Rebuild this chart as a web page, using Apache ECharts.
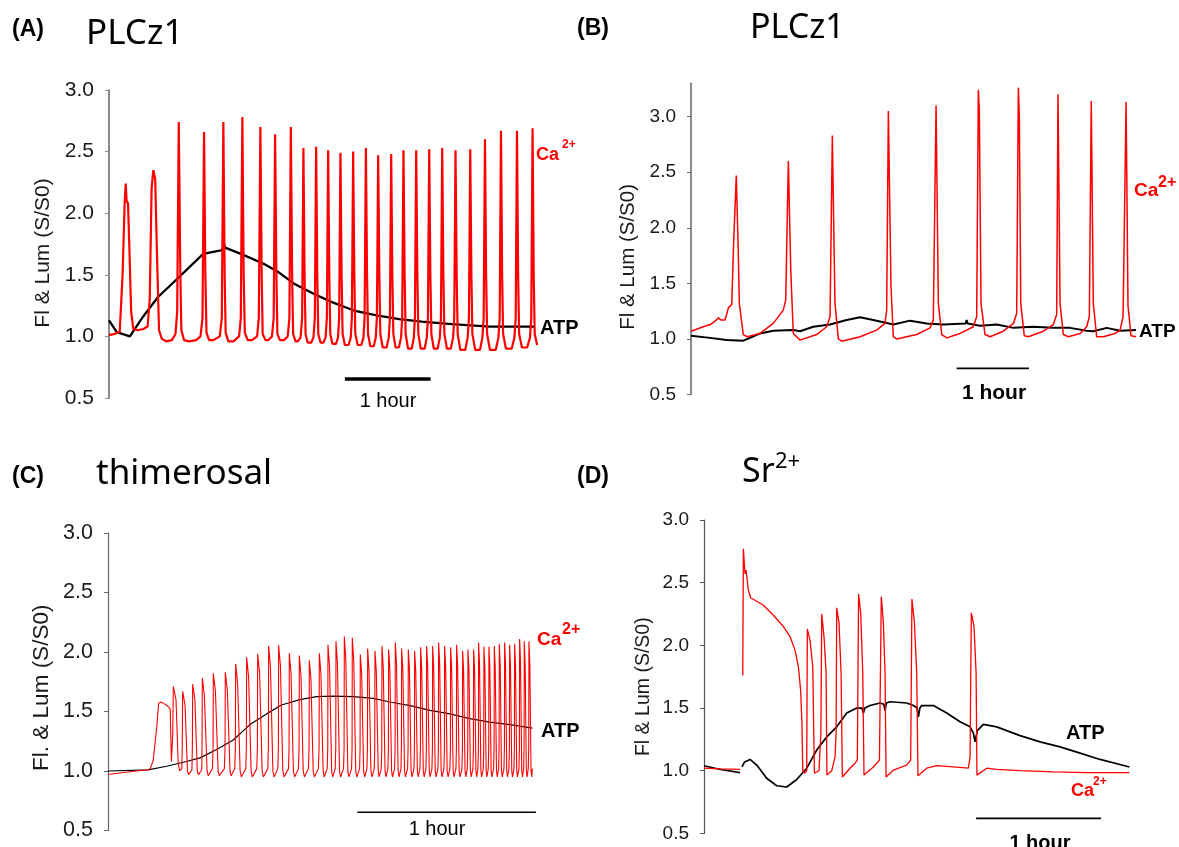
<!DOCTYPE html>
<html><head><meta charset="utf-8">
<script src="https://cdn.jsdelivr.net/npm/echarts@6/dist/echarts.min.js"></script>
<style>html,body{margin:0;padding:0;background:#fff}#c{width:1179px;height:847px}</style>
</head><body><div id="c"></div>
<script>
// y tick values shared by all panels
const yTicks = [0.5, 1.0, 1.5, 2.0, 2.5, 3.0];

// ---------- Panel A : PLCz1 (time in minutes) ----------
const aAtp = [[0,1.13],[5.4,1.035],[14.6,1.0],[23.8,1.16],[34.3,1.32],[48.9,1.48],[65.9,1.67],[79.1,1.70],[80.5,1.75],[81.2,1.72],[92.3,1.67],[108.2,1.59],[118.7,1.52],[129.2,1.43],[142.4,1.35],[155.5,1.28],[171.4,1.21],[187.2,1.17],[203,1.14],[218.8,1.12],[239.8,1.10],[266.2,1.08],[297.8,1.08]];
const aCa = [[0,1.01],[4,1.02],[7.5,1.04],[9.5,1.5],[11.0,2.1],[11.7,2.24],[12.3,2.10],[13.3,2.08],[14.3,1.7],[15.5,1.2],[17,1.06],[20,1.05],[24,1.06],[27,1.08],[28.5,1.3],[29.8,2.2],[31.0,2.35],[32.3,2.28],[33.5,1.7],[35,1.05],[37,0.98],[40,0.96],[44,0.97],[46.5,1.02],[47.7,1.2],
[48.8,2.74],[49.8,1.6],[50.6,1.05],[52.5,0.97],[56,0.96],[61,0.97],[64,1.0],[65.4,1.15],
[66.5,2.66],[67.4,1.5],[68.2,1.03],[70,0.97],[73,0.97],[77.5,1.0],[78.9,1.15],
[80.0,2.74],[80.9,1.5],[81.6,1.03],[83.5,0.96],[87,0.96],[91,1.0],[92.2,1.15],
[93.3,2.78],[94.2,1.5],[95,1.03],[97,0.97],[100,0.97],[103.6,1.0],[104.8,1.15],
[105.9,2.70],[106.8,1.5],[107.5,1.02],[109.5,0.97],[111.5,0.97],[114,1.0],[115.2,1.15],
[116.2,2.64],[117.1,1.5],[117.8,1.02],[119.5,0.97],[122.5,0.97],[125,1.0],[126.2,1.15],
[127.2,2.70],[128.1,1.5],[128.8,1.02],[130.5,0.96],[132,0.96],[134,0.99],[135.1,1.15],
[136.0,2.53],[136.8,1.5],[137.5,1.02],[139,0.95],[141.5,0.95],[143,0.99],[144.0,1.15],
[144.9,2.54],[145.7,1.5],[146.4,1.02],[148,0.95],[150,0.95],[151.5,0.99],[152.4,1.15],
[153.3,2.51],[154.1,1.5],[154.8,1.02],[156.3,0.94],[158.8,0.94],[160.2,0.99],[161.0,1.15],
[161.9,2.49],[162.7,1.5],[163.4,1.02],[165,0.93],[167.6,0.93],[169.1,0.99],[169.9,1.15],
[170.8,2.50],[171.6,1.5],[172.3,1.02],[174,0.93],[176.5,0.93],[178,0.99],[178.8,1.15],
[179.7,2.53],[180.5,1.5],[181.2,1.02],[182.8,0.92],[185.2,0.92],[186.6,0.99],[187.4,1.15],
[188.3,2.47],[189.1,1.5],[189.8,1.02],[191.5,0.91],[194.2,0.91],[195.7,0.99],[196.5,1.15],
[197.4,2.48],[198.2,1.5],[198.9,1.02],[200.5,0.91],[202.8,0.91],[204.3,0.99],[205.1,1.15],
[206.0,2.51],[206.8,1.5],[207.5,1.02],[209.2,0.90],[211.8,0.90],[213.2,0.99],[214.0,1.15],
[214.9,2.51],[215.7,1.5],[216.4,1.02],[218.1,0.90],[220.8,0.90],[222.3,0.99],[223.1,1.15],
[224.0,2.52],[224.8,1.5],[225.5,1.02],[227.2,0.90],[229.9,0.90],[231.4,0.99],[232.2,1.15],
[233.1,2.53],[233.9,1.5],[234.6,1.02],[236.4,0.90],[239.1,0.90],[240.7,0.99],[241.5,1.15],
[242.4,2.51],[243.2,1.5],[243.9,1.02],[245.8,0.89],[249.2,0.89],[250.9,0.99],[251.8,1.15],
[252.7,2.52],[253.5,1.5],[254.2,1.02],[256.2,0.89],[259.5,0.89],[261.2,0.99],[262.1,1.15],
[263.0,2.60],[263.8,1.5],[264.5,1.02],[266.5,0.89],[270.5,0.89],[272.4,0.99],[273.3,1.15],
[274.2,2.67],[275,1.5],[275.7,1.02],[277.7,0.90],[281.7,0.90],[283.6,0.99],[284.5,1.15],
[285.4,2.67],[286.2,1.5],[286.9,1.02],[288.9,0.91],[292.5,0.91],[294.5,0.99],[295.4,1.15],
[296.3,2.69],[297.1,1.5],[297.8,1.02],[299.5,0.93]];
const aBar = [[165,0.654],[225,0.654]];

// ---------- Panel B : PLCz1 ----------
const bAtp = [[0,1.03],[15.8,1.01],[29.6,0.99],[43.4,0.985],[49.0,1.01],[57.3,1.05],[68.3,1.075],[84.9,1.08],[90.5,1.07],[101.5,1.11],[115.4,1.13],[129.2,1.17],[140.3,1.195],[151.3,1.17],[167.9,1.13],[181.8,1.165],[195.6,1.14],[209.4,1.13],[228.0,1.14],[228.8,1.17],[229.6,1.14],[239.9,1.12],[253.7,1.13],[267.6,1.10],[284.1,1.11],[300.7,1.10],[314.6,1.10],[328.4,1.075],[333.9,1.07],[345.0,1.10],[356.1,1.075],[369.4,1.08]];
const bCa = [[0,1.07],[10.2,1.11],[16,1.13],[20,1.16],[22.7,1.19],[25,1.17],[28.2,1.17],[29.6,1.22],[31.0,1.28],[33.8,1.31],[35.5,1.9],[37.6,2.47],[39.2,1.8],[40.1,1.32],[43.4,1.04],[46.7,1.02],[57.3,1.05],[68.3,1.14],[76.6,1.26],[78.6,1.35],[80.8,2.60],[82.8,1.62],[84.9,1.05],[90.5,0.99],[104.3,1.04],[112.6,1.11],[115.4,1.20],[117.3,2.83],[119.5,1.32],[122.3,1.0],[125.1,0.98],[140.3,1.02],[154.1,1.08],[161.0,1.14],[162.4,1.26],[163.8,3.05],[166.0,1.47],[167.9,1.02],[170.7,1.0],[187.3,1.04],[198.4,1.10],[201.1,1.17],[203.4,3.10],[205.3,1.32],[208.1,1.04],[212.2,1.01],[223.3,1.05],[234.3,1.11],[237.1,1.20],[238.5,3.24],[239.3,3.05],[240.7,1.32],[244.0,1.04],[248.2,1.02],[259.2,1.07],[267.6,1.14],[270.3,1.23],[271.7,3.26],[272.5,3.0],[273.7,1.32],[276.6,1.03],[280.0,1.02],[292.4,1.07],[300.7,1.13],[303.5,1.22],[304.6,3.20],[306.3,1.32],[309.0,1.04],[313.2,1.02],[322.9,1.05],[328.4,1.11],[330.6,1.20],[332.2,3.14],[333.9,1.32],[336.7,1.02],[342.2,1.02],[352.0,1.05],[356.1,1.08],[358.6,1.2],[361.1,3.13],[362.7,1.3],[365.2,1.03],[369.4,1.02]];
const bBar = [[220.5,0.736],[280.5,0.736]];

// ---------- Panel C : thimerosal ----------
const cAtp = [[0,1.0],[13.5,1.01],[19.7,1.04],[26.4,1.08],[30.9,1.11],[36.5,1.18],[42.1,1.26],[47.7,1.39],[53.3,1.48],[58.3,1.555],[64.5,1.60],[70.1,1.625],[75.7,1.63],[82.4,1.625],[89.2,1.61],[94.7,1.58],[101.5,1.55],[108.2,1.51],[114.9,1.48],[121.6,1.44],[128.3,1.41],[135.1,1.39],[142.6,1.36]];
const cCa = [[0,0.97],[6,0.99],[13.4,1.01],[14.2,1.02],[15.2,1.09],[16.4,1.37],[17.0,1.57],[17.8,1.58],[19.2,1.56],[20.3,1.54],[20.9,1.52],[21.3,1.08],
[21.75,1.3],[21.95,1.71],[22.85,1.60],[23.6,1.06],[24.1,1.0],[24.8,1.02],
[24.95,1.2],[25.09,1.67],[25.9,1.55],[26.7,1.0],[27.1,0.97],[28.2,1.01],
[28.35,1.2],[28.45,1.73],[29.2,1.6],[30.0,1.0],[30.4,0.97],[31.5,1.01],
[31.6,1.2],[31.69,1.78],[32.4,1.63],[33.3,1.0],[33.7,0.96],[35.1,1.02],
[35.3,1.2],[35.39,1.82],[36.1,1.67],[37.0,1.0],[37.4,0.96],[39.1,1.02],
[39.33,1.2],[39.42,1.83],[40.1,1.68],[41.0,1.0],[41.4,0.96],[42.6,1.02],
[42.8,1.2],[42.89,1.90],[43.55,1.74],[44.4,1.0],[44.8,0.95],[46.3,1.02],
[46.5,1.2],[46.59,1.955],[47.25,1.79],[48.1,1.0],[48.5,0.95],[50.0,1.02],
[50.2,1.2],[50.29,1.985],[50.95,1.82],[51.8,1.0],[52.2,0.95],[53.7,1.02],
[53.9,1.2],[53.98,2.05],[54.6,1.87],[55.4,1.0],[55.8,0.95],[57.05,1.02],
[57.26,1.2],[57.34,2.056],[57.95,1.88],[58.75,1.0],[59.15,0.95],[60.65,1.02],
[60.85,1.2],[60.93,1.99],[61.5,1.82],[62.3,1.0],[62.7,0.95],[64.0,1.02],
[64.21,1.2],[64.29,1.97],[64.85,1.8],[65.6,1.0],[66.0,0.95],[67.35,1.02],
[67.57,1.2],[67.65,1.93],[68.2,1.77],[68.95,1.0],[69.35,0.95],[70.7,1.02],
[70.93,1.2],[71.01,1.99],[71.55,1.82],[72.3,1.0],[72.65,0.95],[73.65,1.02],
[73.85,1.2],[73.92,2.06],[74.45,1.88],[75.15,1.0],[75.5,0.95],[76.35,1.02],
[76.54,1.2],[76.61,2.09],[77.1,1.9],[77.8,1.0],[78.15,0.95],[79.15,1.02],
[79.34,1.2],[79.41,2.13],[79.9,1.94],[80.6,1.0],[80.95,0.95],[81.85,1.02],
[82.02,1.2],[82.09,2.12],[82.58,1.93],[83.25,1.0],[83.6,0.95],[84.55,1.02],
[84.71,1.2],[84.78,1.98],[85.25,1.81],[85.9,1.0],[86.25,0.95],[87.02,1.02],
[87.18,1.2],[87.25,2.03],[87.7,1.85],[88.35,1.0],[88.7,0.95],[89.48,1.02],
[89.64,1.2],[89.71,2.01],[90.15,1.84],[90.8,1.0],[91.1,0.95],[91.83,1.02],
[91.99,1.2],[92.06,2.05],[92.5,1.87],[93.1,1.0],[93.4,0.95],[94.07,1.02],
[94.23,1.2],[94.30,2.02],[94.72,1.85],[95.3,1.0],[95.6,0.95],[96.31,1.02],
[96.47,1.2],[96.54,2.08],[96.95,1.9],[97.5,1.0],[97.8,0.95],[98.44,1.02],
[98.6,1.2],[98.67,2.03],[99.08,1.85],[99.65,1.0],[99.95,0.95],[100.68,1.02],
[100.84,1.2],[100.91,2.02],[101.3,1.85],[101.85,1.0],[102.15,0.95],[102.81,1.02],
[102.97,1.2],[103.04,2.01],[103.42,1.84],[103.95,1.0],[104.25,0.95],[104.82,1.02],
[104.98,1.2],[105.05,2.04],[105.42,1.86],[105.95,1.0],[106.25,0.95],[106.84,1.02],
[107.0,1.2],[107.07,2.05],[107.44,1.87],[107.95,1.0],[108.25,0.95],[108.86,1.02],
[109.02,1.2],[109.09,2.05],[109.45,1.87],[109.95,1.0],[110.25,0.95],[110.87,1.02],
[111.03,1.2],[111.10,2.08],[111.46,1.9],[111.95,1.0],[112.25,0.95],[112.89,1.02],
[113.05,1.2],[113.12,2.05],[113.48,1.87],[113.97,1.0],[114.27,0.95],[114.9,1.02],
[115.06,1.2],[115.13,2.04],[115.49,1.86],[115.98,1.0],[116.28,0.95],[116.92,1.02],
[117.08,1.2],[117.15,2.06],[117.5,1.88],[118.0,1.0],[118.3,0.95],[118.94,1.02],
[119.1,1.2],[119.17,2.01],[119.5,1.84],[119.98,1.0],[120.25,0.95],[120.73,1.02],
[120.89,1.2],[120.96,2.02],[121.3,1.85],[121.77,1.0],[122.05,0.95],[122.63,1.02],
[122.79,1.2],[122.86,2.02],[123.2,1.85],[123.65,1.0],[123.9,0.95],[124.31,1.02],
[124.47,1.2],[124.54,2.08],[124.85,1.9],[125.3,1.0],[125.55,0.95],[126.1,1.02],
[126.26,1.2],[126.33,2.045],[126.64,1.87],[127.08,1.0],[127.33,0.95],[127.78,1.02],
[127.94,1.2],[128.01,2.045],[128.32,1.87],[128.75,1.0],[129.0,0.95],[129.58,1.02],
[129.74,1.2],[129.81,2.05],[130.12,1.87],[130.55,1.0],[130.8,0.95],[131.26,1.02],
[131.42,1.2],[131.49,2.07],[131.8,1.89],[132.22,1.0],[132.47,0.95],[133.05,1.02],
[133.21,1.2],[133.28,2.08],[133.58,1.9],[134.0,1.0],[134.25,0.95],[134.73,1.02],
[134.89,1.2],[134.96,2.06],[135.26,1.88],[135.68,1.0],[135.93,0.95],[136.41,1.02],
[136.57,1.2],[136.64,2.07],[136.94,1.89],[137.35,1.0],[137.6,0.95],[138.09,1.02],
[138.25,1.2],[138.32,2.11],[138.62,1.92],[139.03,1.0],[139.28,0.95],[139.66,1.02],
[139.82,1.2],[139.89,2.09],[140.18,1.9],[140.58,1.0],[140.83,0.95],[141.22,1.02],
[141.38,1.2],[141.45,2.09],[141.75,1.9],[142.15,1.0],[142.4,0.95],[142.6,1.02]];
const cBar = [[83.8,0.653],[143.8,0.653]];

// ---------- Panel D : Sr2+ ----------
const dAtp = [[0,1.04],[8,1.01],[17.3,0.985],[17.8,'-'],[18.2,1.03],[19.5,1.07],[22.1,1.09],[25.3,1.045],[30.1,0.94],[34.9,0.88],[39.7,0.87],[44.5,0.93],[49.3,1.02],[54.1,1.165],[58.9,1.27],[63.7,1.35],[68.5,1.46],[73.3,1.50],[75.8,1.50],[76.5,1.46],[77.2,1.50],[79.7,1.52],[84.5,1.54],[86.3,1.53],[86.9,1.48],[87.5,1.54],[89.3,1.55],[97.3,1.54],[100.5,1.52],[102.3,1.50],[102.9,1.43],[103.6,1.50],[104.5,1.52],[110.1,1.52],[116.5,1.46],[122.9,1.39],[127.7,1.35],[129.3,1.30],[130.1,1.23],[131.2,1.32],[134.1,1.37],[140.5,1.35],[151.7,1.28],[161.3,1.23],[170.9,1.19],[180.5,1.14],[190.1,1.09],[204.2,1.03]];
const dCa = [[0,1.02],[8,1.015],[17.3,1.01],[18.0,'-'],[18.6,1.76],[18.9,2.77],[19.7,2.57],[20.2,2.60],[20.5,2.59],[21.3,2.44],[22.4,2.38],[28.5,2.32],[33.3,2.24],[38.1,2.15],[41.3,2.07],[43.7,1.96],[45.3,1.83],[46.4,1.64],[47.0,1.38],[47.4,1.0],[48.5,0.98],[49.3,1.0],[49.6,2.13],[50.9,2.04],[52.2,1.83],[53.0,0.98],[53.3,0.965],[55.2,1.0],[56.1,1.3],[56.5,2.25],[57.6,2.07],[58.6,1.78],[59.0,0.965],[61.3,1.0],[62.9,1.11],[63.4,1.3],[63.7,2.30],[64.8,2.18],[65.8,1.78],[66.4,0.95],[70.1,1.02],[72.5,1.06],[73.6,1.085],[74.2,2.41],[75.2,2.26],[76.2,1.78],[76.8,0.965],[81.3,1.03],[84.2,1.085],[85.1,2.39],[86.1,2.18],[86.9,1.78],[87.4,0.95],[89.3,0.98],[90.9,1.005],[97.3,1.045],[99.2,1.085],[99.8,2.37],[101.0,2.18],[102.1,1.78],[102.7,0.96],[106.9,1.02],[111.7,1.04],[119.7,1.03],[126.9,1.02],[127.7,1.11],[128.3,2.26],[129.6,2.15],[130.6,1.78],[131.0,0.965],[135.7,1.02],[140.5,1.01],[151.7,1.0],[167.7,0.99],[183.7,0.985],[204.2,0.985]];
const dBar = [[130.6,0.62],[190.6,0.62]];

const RED = '#ff0000';
const SANS = '"Liberation Sans", Arial, sans-serif';
const TITLE = '"Noto Sans", "Open Sans", sans-serif';

function yAx(i, o) {
  const ax = {
    gridIndex: i, type: 'value', min: 0.5, max: 3.0, interval: 0.5,
    axisLine: { show: true, lineStyle: { color: o.axisColor, width: o.axisWidth } },
    axisTick: { show: true, length: 4, lineStyle: { color: o.axisColor, width: 1 } },
    axisLabel: { margin: 15, fontSize: o.fs, fontFamily: SANS, color: '#1a1a1a', formatter: v => v.toFixed(1) },
    splitLine: { show: false },
    name: o.name, nameLocation: 'middle', nameGap: o.gap,
    nameTextStyle: { fontSize: o.nfs, fontFamily: SANS, color: '#1a1a1a', padding: [0, o.shift, 0, 0] }
  };
  if (o.max) {
    ax.max = o.max; delete ax.interval;
    ax.axisLabel.customValues = yTicks; ax.axisTick.customValues = yTicks;
  }
  return ax;
}
function xAx(i, max) { return { gridIndex: i, type: 'value', min: 0, max: max, show: false }; }
function ln(i, data, color, width, z) {
  return { type: 'line', xAxisIndex: i, yAxisIndex: i, data: data, showSymbol: false, symbol: 'none',
    lineStyle: { color: color, width: width }, animation: false, z: z, silent: true, connectNulls: false };
}
function T(x, y, text, size, o) {
  o = o || {};
  return { type: 'text', x: x, y: y, silent: true, style: {
    text: text, fill: o.color || '#000', fontSize: size, fontWeight: o.bold ? 'bold' : 'normal',
    fontFamily: o.family || SANS, align: o.align || 'left', verticalAlign: 'middle' } };
}

const chart = echarts.init(document.getElementById('c'), null, { renderer: 'canvas' });
chart.setOption({
  backgroundColor: '#ffffff',
  animation: false,
  grid: [
    { left: 109, top: 90, width: 436, height: 308, outerBoundsMode: 'none' },
    { left: 691, top: 83.2, width: 445.8, height: 311.4, outerBoundsMode: 'none' },
    { left: 108, top: 533, width: 431.5, height: 297.5, outerBoundsMode: 'none' },
    { left: 704, top: 520, width: 429.2, height: 313.4, outerBoundsMode: 'none' }
  ],
  xAxis: [xAx(0, 305), xAx(1, 370), xAx(2, 145), xAx(3, 206)],
  yAxis: [
    yAx(0, { axisColor: '#8a8a8a', axisWidth: 2, fs: 21, name: 'Fl & Lum (S/S0)', gap: 55, nfs: 21, shift: 18 }),
    yAx(1, { axisColor: '#666', axisWidth: 1.5, fs: 19, name: 'Fl & Lum (S/S0)', gap: 52, nfs: 20.5, shift: 36, max: 3.3 }),
    yAx(2, { axisColor: '#666', axisWidth: 1.2, fs: 21.5, name: 'Fl. & Lum (S/S0)', gap: 55, nfs: 22.5, shift: 12 }),
    yAx(3, { axisColor: '#555', axisWidth: 1.2, fs: 19, name: 'Fl & Lum (S/S0)', gap: 50, nfs: 19.5, shift: 20 })
  ],
  series: [
    ln(0, aAtp, '#000', 2.3, 2), ln(0, aCa, RED, 2.2, 3), ln(0, aBar, '#000', 3.5, 4),
    ln(1, bAtp, '#000', 2.0, 2), ln(1, bCa, RED, 1.5, 3), ln(1, bBar, '#000', 1.6, 4),
    ln(2, cAtp, '#000', 1.2, 2), ln(2, cCa, RED, 1.1, 3), ln(2, cBar, '#000', 1.6, 4),
    ln(3, dAtp, '#000', 1.7, 2), ln(3, dCa, RED, 1.3, 3), ln(3, dBar, '#000', 1.8, 4)
  ],
  graphic: { elements: [
    T(12, 30, '(A)', 23, { bold: true }),
    T(86, 34, 'PLCz1', 35, { family: TITLE }),
    T(577, 29, '(B)', 23, { bold: true }),
    T(750, 28, 'PLCz1', 34, { family: TITLE }),
    T(12, 477, '(C)', 23, { bold: true }),
    T(96, 474, 'thimerosal', 35, { family: TITLE }),
    T(577, 477, '(D)', 23, { bold: true }),
    T(742, 472, 'Sr', 34, { family: TITLE }),
    T(775, 462, '2+', 22, { family: TITLE }),
    // panel A labels
    T(536, 155, 'Ca', 18, { bold: true, color: RED }),
    T(562, 145, '2+', 12, { bold: true, color: RED }),
    T(540, 328, 'ATP', 20, { bold: true }),
    T(388, 401, '1 hour', 20, { align: 'center' }),
    // panel B labels
    T(1134, 191, 'Ca', 19, { bold: true, color: RED }),
    T(1158, 183, '2+', 16, { bold: true, color: RED }),
    T(1139, 332, 'ATP', 19, { bold: true }),
    T(994, 393, '1 hour', 21, { bold: true, align: 'center' }),
    // panel C labels
    T(537, 640, 'Ca', 19, { bold: true, color: RED }),
    T(562, 630, '2+', 16, { bold: true, color: RED }),
    T(541, 731, 'ATP', 20, { bold: true }),
    T(437, 829, '1 hour', 20, { align: 'center' }),
    // panel D labels
    T(1066, 733, 'ATP', 20, { bold: true }),
    T(1071, 791, 'Ca', 18, { bold: true, color: RED }),
    T(1093, 782, '2+', 12, { bold: true, color: RED }),
    T(1040, 843, '1 hour', 20, { bold: true, align: 'center' })
  ] }
});
</script></body></html>
